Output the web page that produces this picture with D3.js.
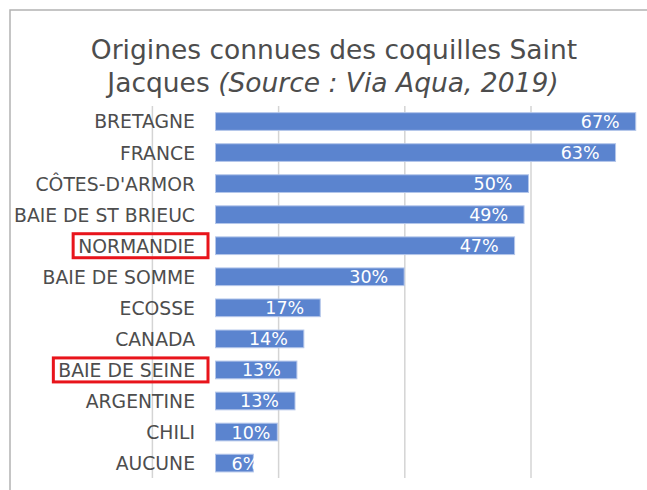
<!DOCTYPE html>
<html>
<head>
<meta charset="utf-8">
<script src="https://cdn.jsdelivr.net/npm/d3@7"></script>
<style>
  body { margin: 0; background: #fff; }
  svg { display: block; font-family: 'DejaVu Sans', sans-serif; }
</style>
</head>
<body>
<svg id="chart" width="647" height="490"></svg>
<script>
const categories = ['BRETAGNE', 'FRANCE', "CÔTES-D'ARMOR", 'BAIE DE ST BRIEUC', 'NORMANDIE',
  'BAIE DE SOMME', 'ECOSSE', 'CANADA', 'BAIE DE SEINE', 'ARGENTINE', 'CHILI', 'AUCUNE']
const values = [0.666, 0.634, 0.496, 0.489, 0.474, 0.299, 0.166, 0.14, 0.129, 0.126, 0.098, 0.06]
const gridTicks = [-0.1, 0.1, 0.3, 0.5, 0.7]
const highlighted = ['NORMANDIE', 'BAIE DE SEINE']
const titleLine1 = 'Origines connues des coquilles Saint'
const titleLine2 = 'Jacques '
const titleSource = '(Source : Via Aqua, 2019)'

const data = categories.map((name, i) => ({ name, value: values[i] }))

const svg = d3.select('#chart')
const textColor = '#4d4d4d'
const barColor = '#5b84cf'

// chart frame (only top and left edges are inside the picture)
svg.append('rect')
  .attr('x', 10).attr('y', 10)
  .attr('width', 800).attr('height', 700)
  .attr('fill', 'none')
  .attr('stroke', '#b3b3b3')
  .attr('stroke-width', 1.5)

const x = d3.scaleLinear()
  .domain([-0.1, 0.7])
  .range([152.4, 657.2])

const y = d3.scaleBand()
  .domain(categories)
  .range([106, 478.6])
  .paddingInner(0.43)
  .paddingOuter(0.215)

// vertical gridlines
svg.append('g')
  .selectAll('line')
  .data(gridTicks)
  .join('line')
  .attr('x1', d => x(d)).attr('x2', d => x(d))
  .attr('y1', 106).attr('y2', 478)
  .attr('stroke', '#d4d4d4')
  .attr('stroke-width', 1.5)

// title
const title = svg.append('g').attr('fill', textColor).attr('text-anchor', 'middle')
title.append('text')
  .attr('x', 334).attr('y', 59)
  .attr('font-size', 26.5)
  .text(titleLine1)
const t2 = title.append('text')
  .attr('x', 333).attr('y', 92)
  .attr('font-size', 26.5)
t2.append('tspan').text(titleLine2)
t2.append('tspan').attr('font-style', 'italic').text(titleSource)

// bars
svg.append('g')
  .selectAll('rect')
  .data(data)
  .join('rect')
  .attr('x', x(0))
  .attr('y', d => y(d.name))
  .attr('width', d => x(d.value) - x(0))
  .attr('height', y.bandwidth())
  .attr('fill', barColor)
  .attr('stroke', '#b4c6ea')
  .attr('stroke-width', 1)

// category labels
const catLabels = svg.append('g')
  .selectAll('text')
  .data(data)
  .join('text')
  .attr('x', 195)
  .attr('y', d => y(d.name) + y.bandwidth() / 2)
  .attr('dy', '0.37em')
  .attr('text-anchor', 'end')
  .attr('font-size', 18.8)
  .attr('fill', textColor)
  .text(d => d.name)

// value labels, inside end, pushed right when the bar is too short
svg.append('g')
  .selectAll('text')
  .data(data)
  .join('text')
  .attr('y', d => y(d.name) + y.bandwidth() / 2)
  .attr('dy', '0.37em')
  .attr('text-anchor', 'end')
  .attr('font-size', 17.5)
  .attr('fill', '#fff')
  .text(d => `${Math.round(d.value * 100)}%`)
  .attr('x', function (d) {
    const w = this.getComputedTextLength()
    return Math.max(x(d.value) - 16, x(0) + 16 + w)
  })

// red boxes around highlighted categories
catLabels.filter(d => highlighted.includes(d.name)).each(function (d) {
  const b = this.getBBox()
  const cy = y(d.name) + y.bandwidth() / 2
  svg.append('rect')
    .attr('x', b.x - 5)
    .attr('y', cy - 12)
    .attr('width', b.width + 18)
    .attr('height', 24)
    .attr('fill', 'none')
    .attr('stroke', '#e8141b')
    .attr('stroke-width', 3)
})
</script>
</body>
</html>
